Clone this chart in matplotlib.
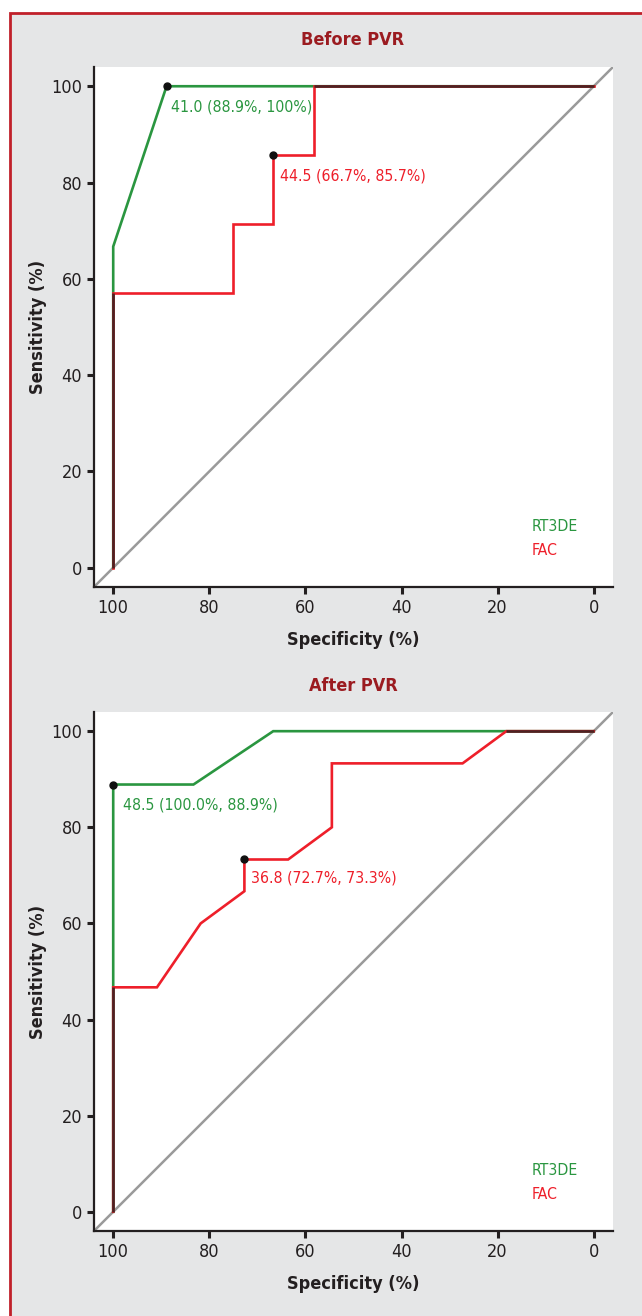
import matplotlib
matplotlib.use("Agg")
import matplotlib.pyplot as plt
from matplotlib import font_manager
from matplotlib.patches import Rectangle

# ---------------- data ----------------
titles = ["Before PVR", "After PVR"]

before_rt3de_spec = [100, 100, 88.9, 0]
before_rt3de_sens = [0, 66.7, 100, 100]
before_fac_spec = [100, 100, 75.0, 75.0, 66.7, 66.7, 58.3, 58.3, 0]
before_fac_sens = [0, 57.1, 57.1, 71.4, 71.4, 85.7, 85.7, 100, 100]

after_rt3de_spec = [100, 100, 83.3, 66.7, 0]
after_rt3de_sens = [0, 88.9, 88.9, 100, 100]
after_fac_spec = [100, 100, 90.9, 81.8, 72.7, 72.7, 63.6, 54.5, 54.5, 27.3, 18.2, 0]
after_fac_sens = [0, 46.7, 46.7, 60.0, 66.7, 73.3, 73.3, 80.0, 93.3, 93.3, 100, 100]

before_cut_rt3de = (88.9, 100.0, "41.0 (88.9%, 100%)")
before_cut_fac = (66.7, 85.7, "44.5 (66.7%, 85.7%)")
after_cut_rt3de = (100.0, 88.9, "48.5 (100.0%, 88.9%)")
after_cut_fac = (72.7, 73.3, "36.8 (72.7%, 73.3%)")

series_names = ["RT3DE", "FAC"]
ticks = [100, 80, 60, 40, 20, 0]
ytick_vals = [0, 20, 40, 60, 80, 100]

# ---------------- style ----------------
names = {f.name for f in font_manager.fontManager.ttflist}
if "Liberation Sans Narrow" in names:
    FAM = ["Liberation Sans Narrow", "DejaVu Sans"]
    STRETCH = "normal"
else:
    FAM = ["DejaVu Sans"]
    STRETCH = "condensed"
plt.rcParams["font.family"] = FAM
plt.rcParams["font.stretch"] = STRETCH

GREEN = "#2a9640"
RED = "#ee1f2a"
DARK = "#4a2323"
GRAY = "#9a9a9a"
BG = "#e5e6e7"
FRAME = "#c0202a"
TITLE = "#9b1b20"
TXT = "#231f20"

fig = plt.figure(figsize=(6.42, 13.16), dpi=100, facecolor="white")
fig.patches.append(Rectangle((9.5 / 642, -0.05), 1.2, 1 - 12.5 / 1316 + 0.05,
                             transform=fig.transFigure, facecolor=BG,
                             edgecolor=FRAME, linewidth=2.0, zorder=-10))


def overlaps(xa, ya, xb, yb):
    """Axis-aligned segments common to both polylines."""
    segs = []
    for i in range(len(xa) - 1):
        for j in range(len(xb) - 1):
            a0, a1 = (xa[i], ya[i]), (xa[i + 1], ya[i + 1])
            b0, b1 = (xb[j], yb[j]), (xb[j + 1], yb[j + 1])
            if a0[0] == a1[0] == b0[0] == b1[0]:
                lo = max(min(a0[1], a1[1]), min(b0[1], b1[1]))
                hi = min(max(a0[1], a1[1]), max(b0[1], b1[1]))
                if hi > lo:
                    segs.append(([a0[0], a0[0]], [lo, hi]))
            elif a0[1] == a1[1] == b0[1] == b1[1]:
                lo = max(min(a0[0], a1[0]), min(b0[0], b1[0]))
                hi = min(max(a0[0], a1[0]), max(b0[0], b1[0]))
                if hi > lo:
                    segs.append(([lo, hi], [a0[1], a0[1]]))
    return segs


panels = [
    (before_rt3de_spec, before_rt3de_sens, before_fac_spec, before_fac_sens,
     before_cut_rt3de, before_cut_fac, [0.1464, 0.5540, 0.8084, 0.3951], 0.9696,
     [(4, -21), (7, -21)]),
    (after_rt3de_spec, after_rt3de_sens, after_fac_spec, after_fac_sens,
     after_cut_rt3de, after_cut_fac, [0.1464, 0.0646, 0.8084, 0.3944], 0.4787,
     [(10, -20), (7, -19)]),
]

LW = 1.9
ANN = 11.3
for k, (gx, gy, rx, ry, cg, cr, rect, ty, offs) in enumerate(panels):
    ax = fig.add_axes(rect)
    ax.set_facecolor("white")
    ax.set_xlim(104, -4)
    ax.set_ylim(-4, 104)
    ax.plot([104, -4], [-4, 104], color=GRAY, lw=1.8, zorder=1, clip_on=True)
    ax.plot(gx, gy, color=GREEN, lw=LW, zorder=2, solid_joinstyle="miter")
    ax.plot(rx, ry, color=RED, lw=LW, zorder=3, solid_joinstyle="miter")
    for sx, sy in overlaps(gx, gy, rx, ry):
        ax.plot(sx, sy, color=DARK, lw=LW, zorder=4, solid_capstyle="butt")
    for (cx, cy, lab), col, off in zip([cg, cr], [GREEN, RED], offs):
        ax.plot([cx], [cy], "o", color="#111111", ms=5, zorder=6)
        ax.annotate(lab, (cx, cy), xytext=(off[0] * 0.72, off[1] * 0.72),
                    textcoords="offset points", color=col, fontsize=ANN,
                    ha="left", va="center")
    ax.text(0.844, 0.117, series_names[0], transform=ax.transAxes, color=GREEN,
            fontsize=ANN, ha="left", va="center")
    ax.text(0.844, 0.071, series_names[1], transform=ax.transAxes, color=RED,
            fontsize=ANN, ha="left", va="center")

    for s in ["top", "right"]:
        ax.spines[s].set_visible(False)
    for s in ["left", "bottom"]:
        ax.spines[s].set_linewidth(1.6)
        ax.spines[s].set_color(TXT)
    ax.set_xticks(ticks)
    ax.set_xticklabels([str(t) for t in ticks])
    ax.set_yticks(ytick_vals)
    ax.set_yticklabels([str(t) for t in ytick_vals])
    ax.tick_params(axis="both", direction="out", length=5, width=2.2,
                   color=TXT, labelcolor=TXT, labelsize=13, pad=3.5)
    ax.set_xlabel("Specificity (%)", fontsize=13, fontweight="bold", color=TXT)
    ax.set_ylabel("Sensitivity (%)", fontsize=13, fontweight="bold", color=TXT)
    ax.xaxis.set_label_coords(0.5, -0.102)
    ax.yaxis.set_label_coords(-0.108, 0.5)
    ax.xaxis.label.set_va("center")
    ax.yaxis.label.set_va("center")
    fig.text(rect[0] + rect[2] * 0.499, ty, titles[k], fontsize=13,
             fontweight="bold", color=TITLE, ha="center", va="center")

fig.savefig("out.png", dpi=100, facecolor="white")
